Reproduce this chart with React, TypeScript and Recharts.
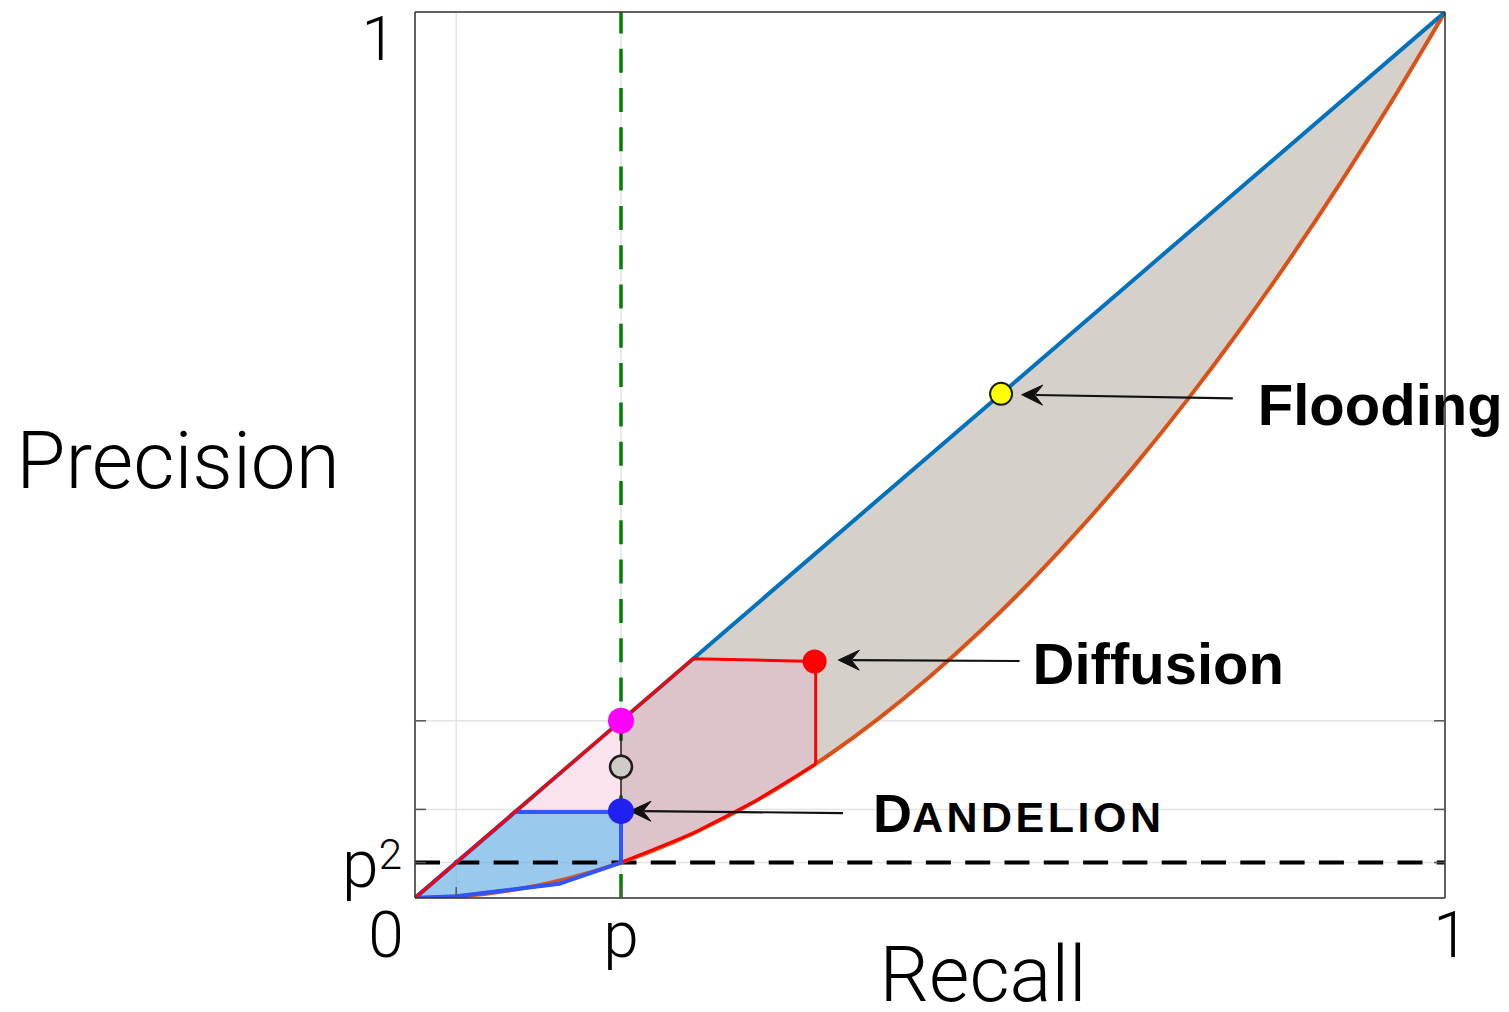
import React from "react";
import {
  ComposedChart,
  XAxis,
  YAxis,
  CartesianGrid,
  Area,
  Line,
  Scatter,
  ReferenceLine,
  Label,
} from "recharts";

// upper bound (precision = recall) and lower bound (precision = recall^2)
const curveRecall = [0, 0.05, 0.1, 0.15, 0.2, 0.25, 0.3, 0.35, 0.4, 0.45, 0.5, 0.55, 0.6, 0.65, 0.7, 0.75, 0.8, 0.85, 0.9, 0.95, 1];
const curvePrecision = [0, 0.0025, 0.01, 0.0225, 0.04, 0.0625, 0.09, 0.1225, 0.16, 0.2025, 0.25, 0.3025, 0.36, 0.4225, 0.49, 0.5625, 0.64, 0.7225, 0.81, 0.9025, 1];
const diagRecall = [0, 1];
const diagPrecision = [0, 1];
const bandStartIndex = 4; // grey band starts at recall = p

// pink (diffusion) region
const pinkRecall = [0, 0.04, 0.14, 0.2, 0.27, 0.33, 0.389];
const pinkTop = [0, 0.04, 0.14, 0.2, 0.27, 0.2685, 0.267];
const pinkBottom = [0, 0.002, 0.016, 0.04, 0.073, 0.109, 0.151];

// blue (dandelion) region
const blueRecall = [0, 0.04, 0.097, 0.14, 0.2];
const blueTop = [0, 0.04, 0.097, 0.097, 0.097];
const blueBottom = [0, 0.002, 0.01, 0.016, 0.04];

// markers
const markerNames = ["flooding", "diffusion", "upper", "middle", "dandelion"];
const markerRecall = [0.569, 0.388, 0.2, 0.2, 0.2];
const markerPrecision = [0.569, 0.267, 0.2, 0.148, 0.098];

// annotations
const arrowNames = ["flooding", "diffusion", "dandelion"];
const arrowTail = [[0.794, 0.564], [0.587, 0.2675], [0.4155, 0.0959]];
const arrowHead = [[0.589, 0.568], [0.411, 0.2686], [0.2087, 0.0982]];

const P = 0.2;
const P2 = 0.04;

const xTicks = [0, 0.04, 0.2, 1];
const xTickText = ["0", "", "p", "1"];
const yTicks = [0, 0.04, 0.1, 0.2, 1];
const yTickText = ["", "p2", "", "", "1"];

const markerStyle: Record<string, { r: number; fill: string; stroke: string; sw: number }> = {
  flooding: { r: 11, fill: "#ffff00", stroke: "#1a1a1a", sw: 2 },
  diffusion: { r: 12, fill: "#ff0000", stroke: "none", sw: 0 },
  upper: { r: 13, fill: "#ff00ff", stroke: "none", sw: 0 },
  middle: { r: 11, fill: "#cdcdc5", stroke: "#231a1e", sw: 2.5 },
  dandelion: { r: 13, fill: "#2020f0", stroke: "none", sw: 0 },
};

const LIGHT = "Roboto, 'Helvetica Neue', Helvetica, sans-serif";
const BOLD = "'Liberation Sans', Arial, Helvetica, sans-serif";
const AXIS = "#333333";
const TICK = "#555555";

const upperLine = diagRecall.map((x, i) => ({ x, y: diagPrecision[i] }));
const lowerLine = curveRecall.map((x, i) => ({ x, y: curvePrecision[i] }));
const band = curveRecall.slice(bandStartIndex).map((x, i) => ({
  x,
  range: [curvePrecision[i + bandStartIndex], x],
}));
const pinkArea = pinkRecall.map((x, i) => ({ x, range: [pinkBottom[i], pinkTop[i]] }));
const last = pinkRecall.length - 1;
const pinkUpperEdge = [
  ...pinkRecall.map((x, i) => ({ x, y: pinkTop[i] })),
  { x: pinkRecall[last], y: pinkBottom[last] },
];
const pinkLowerEdge = pinkRecall.map((x, i) => ({ x, y: pinkBottom[i] }));
const blueArea = blueRecall.map((x, i) => ({ x, range: [blueBottom[i], blueTop[i]] }));
const blueOutline = [
  ...blueRecall.map((x, i) => ({ x, y: blueTop[i] })),
  ...blueRecall.map((x, i) => ({ x, y: blueBottom[i] })).reverse(),
];
const markers = markerNames.map((name, i) => ({ name, x: markerRecall[i], y: markerPrecision[i] }));
const connector = [
  { x: markerRecall[2], y: markerPrecision[2] },
  { x: markerRecall[4], y: markerPrecision[4] },
];

function BottomTick(props: any) {
  const { x, y, payload } = props;
  const i = xTicks.indexOf(payload.value);
  const txt = xTickText[i] ?? "";
  const inner = payload.value > 0 && payload.value < 1;
  const dx = payload.value === 0 ? -29 : payload.value === 1 ? 6 : 0;
  return (
    <g>
      {inner && <line x1={x} y1={y} x2={x} y2={y - 11} stroke={TICK} strokeWidth={1.5} />}
      {txt && (
        <text x={x + dx} y={y + 59} textAnchor="middle" fontFamily={LIGHT} fontWeight={300} fontSize={64} fill="#000">
          {txt}
        </text>
      )}
    </g>
  );
}

function LeftTick(props: any) {
  const { x, y, payload } = props;
  const i = yTicks.indexOf(payload.value);
  const txt = yTickText[i] ?? "";
  const inner = payload.value > 0 && payload.value < 1;
  return (
    <g>
      {inner && <line x1={x} y1={y} x2={x + 11} y2={y} stroke={TICK} strokeWidth={1.5} />}
      {txt === "p2" && (
        <text x={x - 13} y={y + 24} textAnchor="end" fontFamily={LIGHT} fontWeight={300} fontSize={66} fill="#000">
          p<tspan fontSize={42} dy={-18}>2</tspan>
        </text>
      )}
      {txt === "1" && (
        <text x={x - 19} y={y + 48} textAnchor="end" fontFamily={LIGHT} fontWeight={300} fontSize={62} fill="#000">
          1
        </text>
      )}
    </g>
  );
}

function TopTick(props: any) {
  const { x, y } = props;
  return <line x1={x} y1={y} x2={x} y2={y + 11} stroke={TICK} strokeWidth={1.5} />;
}

function RightTick(props: any) {
  const { x, y } = props;
  return <line x1={x} y1={y} x2={x - 11} y2={y} stroke={TICK} strokeWidth={1.5} />;
}

function MarkerShape(props: any) {
  const s = markerStyle[props.payload?.name] ?? markerStyle.upper;
  return <circle cx={props.cx} cy={props.cy} r={s.r} fill={s.fill} stroke={s.stroke} strokeWidth={s.sw} />;
}

function annotationText(name: string, x: number, y: number) {
  if (name === "flooding") {
    return (
      <text x={x + 25} y={y + 27} fontFamily={BOLD} fontWeight={700} fontSize={58} fill="#000">
        Flooding
      </text>
    );
  }
  if (name === "diffusion") {
    return (
      <text x={x + 13} y={y + 23} fontFamily={BOLD} fontWeight={700} fontSize={58} fill="#000">
        Diffusion
      </text>
    );
  }
  return (
    <text x={x + 30} y={y + 19} fontFamily={BOLD} fontWeight={700} fontSize={54} fill="#000">
      D<tspan fontSize={43} letterSpacing={3.5}>ANDELION</tspan>
    </text>
  );
}

function makeArrow(name: string) {
  return (props: any) => {
    const { x1, y1, x2, y2 } = props;
    const len = Math.hypot(x2 - x1, y2 - y1) || 1;
    const ux = (x2 - x1) / len;
    const uy = (y2 - y1) / len;
    const px = -uy;
    const py = ux;
    const head = `M${x2},${y2} L${x2 - ux * 21 + px * 10},${y2 - uy * 21 + py * 10} L${x2 - ux * 13},${y2 - uy * 13} L${x2 - ux * 21 - px * 10},${y2 - uy * 21 - py * 10} Z`;
    return (
      <g>
        <line x1={x1} y1={y1} x2={x2 - ux * 14} y2={y2 - uy * 14} stroke="#111" strokeWidth={2.2} />
        <path d={head} fill="#111" stroke="#111" strokeWidth={1} strokeLinejoin="miter" />
        {annotationText(name, x1, y1)}
      </g>
    );
  };
}

export default function App() {
  return (
    <div style={{ position: "absolute", left: 0, top: 0, width: 1509, height: 1012, background: "#fff" }}>
      <ComposedChart width={1509} height={1012} margin={{ top: 11, right: 63, bottom: 113, left: 414 }}>
        <CartesianGrid stroke="#e3e3e3" strokeWidth={1.5} />
        <XAxis
          dataKey="x"
          type="number"
          domain={[0, 1]}
          ticks={xTicks}
          interval={0}
          height={1}
          tickSize={0}
          tickMargin={0}
          tickLine={false}
          tick={BottomTick}
          axisLine={{ stroke: AXIS, strokeWidth: 1.5 }}
          allowDataOverflow
        >
          <Label
            content={(p: any) => {
              const vb = p.viewBox ?? { x: 415, y: 898 };
              return (
                <text x={vb.x + 568} y={vb.y + 103} textAnchor="middle" fontFamily={LIGHT} fontWeight={300} fontSize={78} fill="#000">
                  Recall
                </text>
              );
            }}
          />
        </XAxis>
        <XAxis
          xAxisId="top"
          orientation="top"
          type="number"
          domain={[0, 1]}
          ticks={[0.04, 0.2]}
          interval={0}
          height={1}
          tickSize={0}
          tickMargin={0}
          tickLine={false}
          tick={TopTick}
          axisLine={{ stroke: AXIS, strokeWidth: 1.5 }}
          allowDataOverflow
        />
        <YAxis
          type="number"
          domain={[0, 1]}
          ticks={yTicks}
          interval={0}
          width={1}
          tickSize={0}
          tickMargin={0}
          tickLine={false}
          tick={LeftTick}
          axisLine={{ stroke: AXIS, strokeWidth: 1.5 }}
          allowDataOverflow
        >
          <Label
            content={(p: any) => {
              const vb = p.viewBox ?? { x: 414, y: 12 };
              return (
                <text x={vb.x - 236} y={vb.y + 476} textAnchor="middle" fontFamily={LIGHT} fontWeight={300} fontSize={80} fill="#000">
                  Precision
                </text>
              );
            }}
          />
        </YAxis>
        <YAxis
          yAxisId="right"
          orientation="right"
          type="number"
          domain={[0, 1]}
          ticks={[0.04, 0.1, 0.2]}
          interval={0}
          width={1}
          tickSize={0}
          tickMargin={0}
          tickLine={false}
          tick={RightTick}
          axisLine={{ stroke: AXIS, strokeWidth: 1.5 }}
          allowDataOverflow
        />

        <ReferenceLine y={P2} stroke="#000" strokeWidth={4} strokeDasharray="25 14.3" />

        <Area data={band} dataKey="range" type="monotone" fill="#d5d1ca" fillOpacity={1} stroke="none" isAnimationActive={false} />
        <Line data={lowerLine} dataKey="y" type="monotone" stroke="#d95319" strokeWidth={4} dot={false} isAnimationActive={false} />
        <Line data={upperLine} dataKey="y" type="linear" stroke="#0072bd" strokeWidth={4} dot={false} isAnimationActive={false} />

        <ReferenceLine x={P} stroke="#008000" strokeWidth={3.5} strokeDasharray="24 15.3" />

        <Area data={pinkArea} dataKey="range" type="linear" fill="#f0a8cc" fillOpacity={0.32} stroke="none" isAnimationActive={false} />
        <Line data={pinkLowerEdge} dataKey="y" type="linear" stroke="#ff0000" strokeWidth={3} dot={false} isAnimationActive={false} />
        <Area data={blueArea} dataKey="range" type="linear" fill="#5ab8ec" fillOpacity={0.6} stroke="none" isAnimationActive={false} />
        <Line data={blueOutline} dataKey="y" type="linear" stroke="#2f55ff" strokeWidth={4} dot={false} isAnimationActive={false} />
        <Line data={pinkUpperEdge} dataKey="y" type="linear" stroke="#ff0000" strokeWidth={3} dot={false} isAnimationActive={false} />

        <Line data={connector} dataKey="y" type="linear" stroke="#231a1e" strokeWidth={1.5} dot={false} isAnimationActive={false} />
        <Scatter data={markers} dataKey="y" shape={MarkerShape} isAnimationActive={false} />

        {arrowNames.map((name, i) => (
          <ReferenceLine
            key={name}
            segment={[
              { x: arrowTail[i][0], y: arrowTail[i][1] },
              { x: arrowHead[i][0], y: arrowHead[i][1] },
            ]}
            ifOverflow="visible"
            shape={makeArrow(name)}
          />
        ))}
      </ComposedChart>
    </div>
  );
}
